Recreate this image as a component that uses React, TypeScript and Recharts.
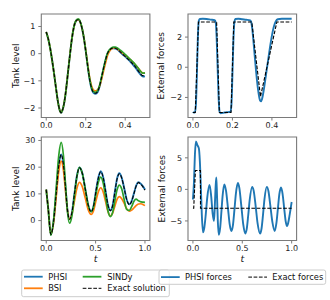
import React from 'react';
import { LineChart, Line, XAxis, YAxis, ReferenceArea } from 'recharts';

const FONT = '"DejaVu Sans", sans-serif';
const BLUE = '#1f77b4';
const ORANGE = '#ff7f0e';
const GREEN = '#2ca02c';
const BLACK = '#000000';
const FRAME = '#7a7a7a';

// ---------- top-left: tank level, t in [0, 0.5] ----------
const TL_T = [0, 0.01, 0.02, 0.03, 0.04, 0.05, 0.06, 0.07, 0.075, 0.08, 0.09, 0.1, 0.11, 0.12, 0.13, 0.14, 0.15, 0.16, 0.165, 0.17, 0.18, 0.19, 0.2, 0.21, 0.22, 0.23, 0.24, 0.25, 0.26, 0.27, 0.28, 0.29, 0.3, 0.31, 0.32, 0.33, 0.34, 0.35, 0.36, 0.37, 0.38, 0.39, 0.4, 0.41, 0.42, 0.43, 0.44, 0.45, 0.46, 0.47, 0.48, 0.49, 0.5];
const TL_EXACT = [0.8, 0.55, 0.2, -0.25, -0.75, -1.3, -1.8, -2.12, -2.17, -2.12, -1.85, -1.35, -0.7, -0.05, 0.55, 0.98, 1.2, 1.25, 1.25, 1.2, 0.97, 0.6, 0.1, -0.45, -0.95, -1.28, -1.43, -1.46, -1.4, -1.2, -0.88, -0.55, -0.25, 0.0, 0.12, 0.19, 0.21, 0.2, 0.16, 0.1, 0.03, -0.04, -0.1, -0.17, -0.24, -0.31, -0.39, -0.47, -0.57, -0.67, -0.76, -0.81, -0.8];
const TL_PHSI = [0.8, 0.55, 0.2, -0.25, -0.75, -1.3, -1.8, -2.12, -2.18, -2.13, -1.86, -1.36, -0.7, -0.05, 0.55, 0.98, 1.2, 1.25, 1.25, 1.2, 0.97, 0.6, 0.1, -0.45, -0.96, -1.3, -1.45, -1.48, -1.42, -1.22, -0.9, -0.56, -0.26, -0.01, 0.11, 0.18, 0.2, 0.19, 0.15, 0.09, 0.02, -0.05, -0.11, -0.18, -0.25, -0.33, -0.41, -0.5, -0.6, -0.7, -0.79, -0.84, -0.83];
const TL_BSI = [0.8, 0.55, 0.2, -0.25, -0.75, -1.3, -1.8, -2.12, -2.17, -2.12, -1.85, -1.35, -0.7, -0.05, 0.55, 0.98, 1.2, 1.25, 1.25, 1.2, 0.98, 0.62, 0.13, -0.4, -0.88, -1.2, -1.34, -1.37, -1.33, -1.2, -0.95, -0.65, -0.35, -0.08, 0.09, 0.17, 0.21, 0.21, 0.18, 0.12, 0.06, 0.0, -0.06, -0.12, -0.18, -0.25, -0.32, -0.4, -0.48, -0.57, -0.66, -0.72, -0.72];
const TL_SINDY = [0.8, 0.55, 0.2, -0.25, -0.75, -1.3, -1.8, -2.12, -2.17, -2.12, -1.85, -1.35, -0.7, -0.05, 0.55, 0.98, 1.21, 1.27, 1.27, 1.22, 0.99, 0.62, 0.12, -0.45, -0.93, -1.26, -1.4, -1.42, -1.36, -1.17, -0.87, -0.54, -0.23, 0.01, 0.14, 0.21, 0.24, 0.24, 0.21, 0.16, 0.1, 0.04, -0.03, -0.1, -0.17, -0.24, -0.31, -0.39, -0.48, -0.58, -0.67, -0.72, -0.71];

// ---------- top-right: external forces, t in [0, 0.5] ----------
const TR_PHSI_T = [0, 0.005, 0.01, 0.015, 0.02, 0.025, 0.03, 0.035, 0.05, 0.07, 0.09, 0.11, 0.115, 0.12, 0.125, 0.13, 0.135, 0.14, 0.16, 0.18, 0.19, 0.195, 0.2, 0.205, 0.21, 0.215, 0.23, 0.25, 0.27, 0.29, 0.295, 0.3, 0.31, 0.32, 0.33, 0.34, 0.345, 0.35, 0.36, 0.37, 0.38, 0.39, 0.4, 0.41, 0.42, 0.43, 0.45, 0.5];
const TR_PHSI_V = [-2.95, -3.0, -3.0, -2.5, -0.5, 2.0, 3.1, 3.2, 3.22, 3.2, 3.16, 3.12, 3.0, 2.0, 0.0, -2.0, -2.95, -3.05, -3.0, -2.97, -2.95, -2.5, -0.5, 1.8, 3.0, 3.2, 3.22, 3.18, 3.15, 3.1, 3.0, 2.6, 1.2, -0.3, -1.5, -2.2, -2.25, -2.1, -1.4, -0.5, 0.4, 1.3, 2.1, 2.7, 3.05, 3.18, 3.22, 3.22];
const TR_EXACT_T = [0, 0.012, 0.028, 0.12, 0.134, 0.193, 0.207, 0.298, 0.342, 0.425, 0.5];
const TR_EXACT_V = [-3, -3, 3, 3, -3, -3, 3, 3, -1.95, 3, 3];

// ---------- bottom-left: tank level, t in [0, 1] ----------
const BL_T = [0, 0.02, 0.047, 0.075, 0.1, 0.125, 0.152, 0.175, 0.195, 0.215, 0.236, 0.26, 0.285, 0.31, 0.337, 0.365, 0.395, 0.425, 0.455, 0.48, 0.505, 0.53, 0.552, 0.577, 0.6, 0.625, 0.65, 0.672, 0.695, 0.718, 0.74, 0.765, 0.79, 0.815, 0.842, 0.865, 0.89, 0.91, 0.935, 0.96, 0.98, 1.0];
const BL_EXACT = [11.6, 4.5, -5.2, -0.2, 9.7, 19.9, 24.7, 20.6, 12.4, 4.0, 0.5, 3.0, 9.8, 16.5, 19.8, 17.7, 11.9, 5.8, 3.3, 5.5, 11.3, 16.3, 18.3, 16.1, 11.3, 5.9, 3.7, 5.5, 10.6, 15.6, 17.5, 15.9, 12.0, 7.8, 6.0, 7.2, 10.3, 12.8, 14.2, 13.5, 12.6, 11.4];
const BL_PHSI = [11.6, 4.5, -5.2, -0.2, 9.7, 19.9, 24.8, 20.7, 12.4, 4.0, 0.5, 3.0, 9.8, 16.6, 19.9, 17.8, 11.9, 5.8, 3.4, 5.6, 11.4, 16.4, 18.5, 16.2, 11.3, 5.9, 3.8, 5.6, 10.7, 15.8, 17.7, 16.0, 12.1, 7.9, 6.1, 7.3, 10.4, 13.0, 14.4, 13.7, 12.8, 11.6];
const BL_BSI = [11.6, 4.5, -5.2, -0.6, 8.5, 17.9, 22.3, 18.6, 11.2, 3.8, 0.6, 2.4, 7.2, 12.0, 14.3, 12.7, 8.5, 4.1, 2.3, 3.8, 7.6, 11.0, 12.3, 10.7, 7.3, 3.4, 1.8, 2.7, 5.4, 8.0, 9.0, 8.2, 6.4, 4.4, 3.5, 3.9, 4.8, 5.6, 6.2, 6.3, 6.0, 5.6];
const BL_SINDY = [11.6, 4.5, -5.5, 0.4, 11.9, 23.7, 29.3, 24.1, 13.8, 3.4, -1.0, 1.7, 9.0, 16.3, 19.9, 17.7, 11.9, 5.8, 3.3, 5.3, 10.2, 14.6, 16.3, 14.1, 9.2, 3.7, 1.5, 3.0, 7.4, 11.6, 13.3, 11.8, 7.8, 4.2, 3.8, 5.2, 7.3, 8.0, 7.4, 7.0, 6.9, 6.8];

// ---------- bottom-right: external forces, t in [0, 1] ----------
const BR_PHSI_T = [0, 0.01, 0.02, 0.03, 0.045, 0.06, 0.07, 0.08, 0.09, 0.102, 0.115, 0.13, 0.145, 0.168, 0.185, 0.2, 0.213, 0.222, 0.23, 0.237, 0.244, 0.252, 0.262, 0.275, 0.29, 0.3, 0.318, 0.335, 0.355, 0.372, 0.39, 0.405, 0.42, 0.435, 0.455, 0.47, 0.49, 0.51, 0.53, 0.545, 0.56, 0.575, 0.6, 0.615, 0.635, 0.655, 0.68, 0.695, 0.71, 0.725, 0.748, 0.765, 0.785, 0.805, 0.828, 0.845, 0.86, 0.875, 0.892, 0.908, 0.925, 0.94, 0.953, 0.965, 0.98, 1.0];
const BR_PHSI_V = [-1.6, 1.0, 5.5, 7.6, 7.0, 6.5, 4.5, 0.5, -4.0, -6.8, -6.1, -3.95, -1.3, 0.7, -1.1, -3.9, -5.0, -2.5, 0.5, 1.9, -1.0, -5.0, -7.2, -6.2, -3.2, -1.1, 0.8, -0.2, -3.0, -5.5, -6.6, -5.7, -3.3, -0.7, 1.0, 0.24, -2.6, -5.6, -7.0, -6.26, -4.1, -1.67, 0.4, -0.2, -2.6, -5.4, -7.0, -6.2, -4.0, -1.5, 0.4, -0.3, -2.7, -5.2, -6.6, -5.4, -3.15, -0.8, 0.3, -0.7, -3.1, -5.1, -5.8, -5.3, -4.0, -2.0];
const BR_EXACT_T = [0, 0.008, 0.025, 0.076, 0.0765, 1.0];
const BR_EXACT_V = [-3, -3, 3, 3, -3, -3];

// ---------- ticks & labels ----------
const X_TICKS_TOP = [0, 0.2, 0.4];
const X_TICKS_BOTTOM = [0, 0.5, 1.0];
const Y_TICKS_TL = [-2, -1, 0, 1];
const Y_TICKS_TR = [-2, 0, 2];
const Y_TICKS_BL = [0, 10, 20, 30];
const Y_TICKS_BR = [-5, 0, 5];
const Y_LABEL_TANK = 'Tank level';
const Y_LABEL_FORCES = 'External forces';
const X_LABEL = 't';
const STATE_NAMES = ['PHSI', 'BSI', 'SINDy', 'Exact solution'];
const FORCE_NAMES = ['PHSI forces', 'Exact forces'];

const zip = (t: number[], v: number[]) => t.map((x, i) => ({ t: x, v: v[i] }));

const fmt = (v: number, d: number) => {
  const s = Math.abs(v).toFixed(d);
  return v < 0 ? '\u2212' + s : s;
};

type Series = { data: { t: number; v: number }[]; color: string; width: number; dash?: string; type: 'monotone' | 'linear' };

type PanelProps = {
  px: number; py: number; pw: number; ph: number; yw: number;
  xDomain: [number, number]; yDomain: [number, number];
  xTicks: number[]; yTicks: number[]; xDec: number;
  yLabel: string; labelX: number; showT: boolean; series: Series[];
};

function Panel(p: PanelProps) {
  const top = 5;
  const right = 5;
  const xh = 28;
  const width = p.yw + p.pw + right;
  const height = top + p.ph + xh;
  const left = p.px - p.yw;
  const tickStyle = { fontSize: 8, fill: '#222', fontFamily: FONT };
  return (
    <div style={{ position: 'absolute', left, top: p.py - top, width, height }}>
      <LineChart width={width} height={height} margin={{ top, right, left: 0, bottom: 0 }}>
        <XAxis
          type="number"
          dataKey="t"
          domain={p.xDomain}
          ticks={p.xTicks}
          interval={0}
          tickFormatter={(v: number) => fmt(v, p.xDec)}
          height={xh}
          tick={tickStyle}
          tickSize={3}
          tickMargin={2}
          axisLine={false}
          tickLine={{ stroke: FRAME }}
          label={p.showT ? { value: X_LABEL, position: 'insideBottom', offset: 6.3, style: { fontSize: 9.5, fontStyle: 'italic', fontFamily: FONT, fill: '#111' } } : undefined}
        />
        <YAxis
          type="number"
          domain={p.yDomain}
          ticks={p.yTicks}
          interval={0}
          tickFormatter={(v: number) => fmt(v, 0)}
          width={p.yw}
          tick={tickStyle}
          tickSize={3}
          tickMargin={3}
          axisLine={false}
          tickLine={{ stroke: FRAME }}
          label={{ value: p.yLabel, angle: -90, position: 'insideLeft', offset: p.labelX - left, style: { textAnchor: 'middle', fontSize: 9, fontFamily: FONT, fill: '#111' } }}
        />
        <ReferenceArea x1={p.xDomain[0]} x2={p.xDomain[1]} y1={p.yDomain[0]} y2={p.yDomain[1]} fill="none" stroke={FRAME} strokeWidth={1.1} ifOverflow="visible" />
        {p.series.map((s, i) => (
          <Line
            key={i}
            data={s.data}
            dataKey="v"
            type={s.type}
            stroke={s.color}
            strokeWidth={s.width}
            strokeDasharray={s.dash}
            dot={false}
            activeDot={false}
            isAnimationActive={false}
          />
        ))}
      </LineChart>
    </div>
  );
}

function LegendHandle({ x, y, color, dashed }: { x: number; y: number; color: string; dashed?: boolean }) {
  return <line x1={x} x2={x + 18.7} y1={y} y2={y} stroke={color} strokeWidth={dashed ? 1 : 1.8} strokeDasharray={dashed ? '3.7 1.6' : undefined} />;
}

function Legends() {
  const ts = { fontSize: 8.3, fontFamily: FONT, fill: '#111' } as const;
  const r1 = 276.7;
  const r2 = 288.3;
  return (
    <svg width={330} height={300} style={{ position: 'absolute', left: 0, top: 0, pointerEvents: 'none' }}>
      <rect x={21.7} y={270} width={147.6} height={26.7} rx={2} fill="#fff" fillOpacity={0.8} stroke="#cccccc" strokeWidth={1} />
      <LegendHandle x={24} y={r1} color={BLUE} />
      <text x={48.3} y={r1} dominantBaseline="central" style={ts}>{STATE_NAMES[0]}</text>
      <LegendHandle x={24} y={r2} color={ORANGE} />
      <text x={48.3} y={r2} dominantBaseline="central" style={ts}>{STATE_NAMES[1]}</text>
      <LegendHandle x={82.7} y={r1} color={GREEN} />
      <text x={107.3} y={r1} dominantBaseline="central" style={ts}>{STATE_NAMES[2]}</text>
      <LegendHandle x={82.7} y={r2} color={BLACK} dashed />
      <text x={107.3} y={r2} dominantBaseline="central" style={ts}>{STATE_NAMES[3]}</text>

      <rect x={159} y={270} width={166.7} height={14.3} rx={2} fill="#fff" fillOpacity={0.8} stroke="#cccccc" strokeWidth={1} />
      <LegendHandle x={161} y={r1 + 0.4} color={BLUE} />
      <text x={185} y={r1 + 0.4} dominantBaseline="central" style={ts}>{FORCE_NAMES[0]}</text>
      <LegendHandle x={248.3} y={r1 + 0.4} color={BLACK} dashed />
      <text x={272.3} y={r1 + 0.4} dominantBaseline="central" style={ts}>{FORCE_NAMES[1]}</text>
    </svg>
  );
}

export default function App() {
  const LX0 = 41.3, RX0 = 188.3, PW = 108.6, TY0 = 14.3, BY0 = 137.3, PH = 103.5;
  const dashed = '3.7 1.6';
  return (
    <div style={{ position: 'absolute', left: 0, top: 0, width: 330, height: 300, background: '#fff', overflow: 'hidden' }}>
      <Panel
        px={LX0} py={TY0} pw={PW} ph={PH} yw={41.3}
        xDomain={[-0.025, 0.525]} yDomain={[-2.35, 1.46]}
        xTicks={X_TICKS_TOP} yTicks={Y_TICKS_TL} xDec={1}
        yLabel={Y_LABEL_TANK} labelX={16} showT={false}
        series={[
          { data: zip(TL_T, TL_PHSI), color: BLUE, width: 1.9, type: 'monotone' },
          { data: zip(TL_T, TL_BSI), color: ORANGE, width: 1.7, type: 'monotone' },
          { data: zip(TL_T, TL_SINDY), color: GREEN, width: 1.7, type: 'monotone' },
          { data: zip(TL_T, TL_EXACT), color: BLACK, width: 1.1, dash: dashed, type: 'monotone' },
        ]}
      />
      <Panel
        px={RX0} py={TY0} pw={PW} ph={PH} yw={36}
        xDomain={[-0.025, 0.525]} yDomain={[-3.33, 3.53]}
        xTicks={X_TICKS_TOP} yTicks={Y_TICKS_TR} xDec={1}
        yLabel={Y_LABEL_FORCES} labelX={161.5} showT={false}
        series={[
          { data: zip(TR_PHSI_T, TR_PHSI_V), color: BLUE, width: 1.9, type: 'monotone' },
          { data: zip(TR_EXACT_T, TR_EXACT_V), color: BLACK, width: 1.1, dash: dashed, type: 'linear' },
        ]}
      />
      <Panel
        px={LX0} py={BY0} pw={PW} ph={PH} yw={41.3}
        xDomain={[-0.05, 1.05]} yDomain={[-7.46, 31.3]}
        xTicks={X_TICKS_BOTTOM} yTicks={Y_TICKS_BL} xDec={1}
        yLabel={Y_LABEL_TANK} labelX={16} showT={true}
        series={[
          { data: zip(BL_T, BL_PHSI), color: BLUE, width: 1.9, type: 'monotone' },
          { data: zip(BL_T, BL_BSI), color: ORANGE, width: 1.7, type: 'monotone' },
          { data: zip(BL_T, BL_SINDY), color: GREEN, width: 1.7, type: 'monotone' },
          { data: zip(BL_T, BL_EXACT), color: BLACK, width: 1.1, dash: dashed, type: 'monotone' },
        ]}
      />
      <Panel
        px={RX0} py={BY0} pw={PW} ph={PH} yw={36}
        xDomain={[-0.05, 1.05]} yDomain={[-8.1, 8.3]}
        xTicks={X_TICKS_BOTTOM} yTicks={Y_TICKS_BR} xDec={1}
        yLabel={Y_LABEL_FORCES} labelX={162} showT={true}
        series={[
          { data: zip(BR_PHSI_T, BR_PHSI_V), color: BLUE, width: 1.9, type: 'monotone' },
          { data: zip(BR_EXACT_T, BR_EXACT_V), color: BLACK, width: 1.1, dash: dashed, type: 'linear' },
        ]}
      />
      <Legends />
    </div>
  );
}
